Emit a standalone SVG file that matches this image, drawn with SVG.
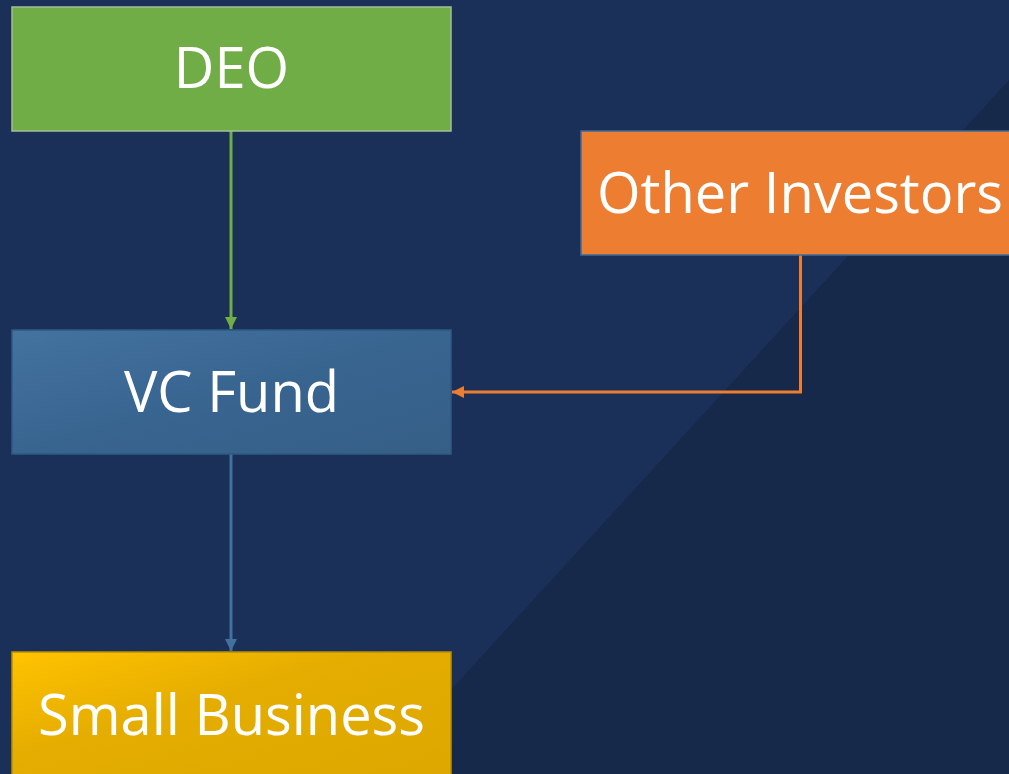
<svg xmlns="http://www.w3.org/2000/svg" width="1009" height="774" viewBox="0 0 1009 774">
  <defs>
    <linearGradient id="gVC" x1="0" y1="0" x2="1" y2="1">
      <stop offset="0" stop-color="#44739f"/>
      <stop offset="0.5" stop-color="#386490"/>
      <stop offset="1" stop-color="#355f86"/>
    </linearGradient>
    <linearGradient id="gSB" x1="0" y1="0" x2="1" y2="1">
      <stop offset="0" stop-color="#ffc300"/>
      <stop offset="0.4" stop-color="#e5ad00"/>
      <stop offset="1" stop-color="#dca700"/>
    </linearGradient>
    <marker id="aG" viewBox="0 0 10 10" refX="10" refY="5" markerWidth="4" markerHeight="4" markerUnits="strokeWidth" orient="auto">
      <path d="M0,0 L10,5 L0,10 z" fill="#70ad47"/>
    </marker>
    <marker id="aB" viewBox="0 0 10 10" refX="10" refY="5" markerWidth="4" markerHeight="4" markerUnits="strokeWidth" orient="auto">
      <path d="M0,0 L10,5 L0,10 z" fill="#41719c"/>
    </marker>
    <marker id="aO" viewBox="0 0 10 10" refX="10" refY="5" markerWidth="4" markerHeight="4" markerUnits="strokeWidth" orient="auto">
      <path d="M0,0 L10,5 L0,10 z" fill="#ed7d31"/>
    </marker>
  </defs>
  <style>
    .lbl { font-family: "Open Sans", "Liberation Sans", sans-serif; font-size: 56px; fill: #ffffff; }
    .conn { fill: none; stroke-width: 3; }
  </style>
  <rect x="0" y="0" width="1009" height="774" fill="#1a3058"/>
  <polygon points="1009,80 1009,774 374,774" fill="#16294b"/>

  <g id="connectors">
    <line class="conn" x1="231" y1="131" x2="231" y2="329" stroke="#70ad47" marker-end="url(#aG)"/>
    <line class="conn" x1="231" y1="454" x2="231" y2="651" stroke="#41719c" marker-end="url(#aB)"/>
    <polyline class="conn" points="800.5,255 800.5,392 452,392" stroke="#ed7d31" marker-end="url(#aO)"/>
  </g>

  <g id="deo">
    <rect x="12" y="7" width="439" height="124" fill="#70ad47" stroke="#a3bf95" stroke-width="1.5"/>
    <text class="lbl" x="231.5" y="88" text-anchor="middle">DEO</text>
  </g>
  <g id="other-investors">
    <rect x="581" y="131" width="440" height="124" fill="#ed7d31" stroke="#3f6a96" stroke-width="1.5"/>
    <text class="lbl" x="597" y="213">Other Investors</text>
  </g>
  <g id="vc-fund">
    <rect x="12" y="330" width="439" height="124" fill="url(#gVC)" stroke="#2f5a82" stroke-width="1.5"/>
    <text class="lbl" x="231.5" y="412" text-anchor="middle">VC Fund</text>
  </g>
  <g id="small-business">
    <rect x="12" y="652" width="439" height="130" fill="url(#gSB)" stroke="#b89000" stroke-width="1.5"/>
    <text class="lbl" x="231.5" y="735" text-anchor="middle">Small Business</text>
  </g>
</svg>
